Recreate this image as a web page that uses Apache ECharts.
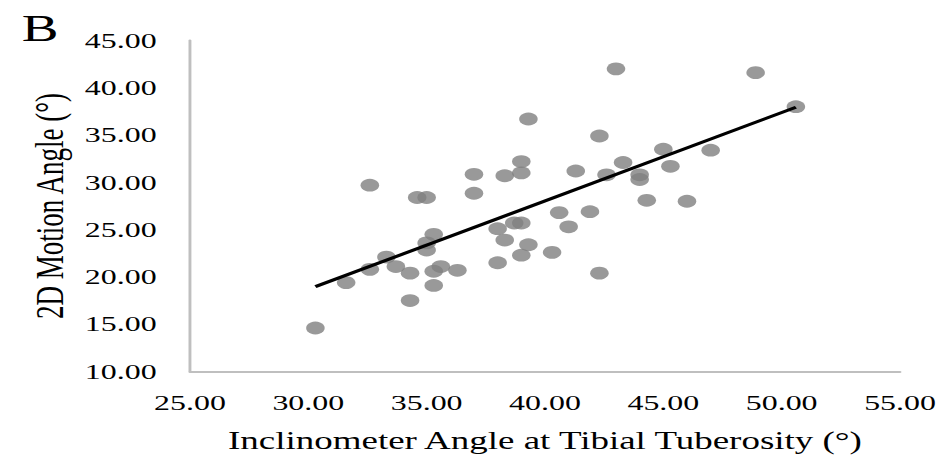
<!DOCTYPE html>
<html>
<head>
<meta charset="utf-8">
<script src="https://cdn.jsdelivr.net/npm/echarts@6/dist/echarts.min.js"></script>
<style>
html,body{margin:0;padding:0;background:#fff;overflow:hidden;width:944px;height:462px;}
#chart{width:651px;height:462px;transform:scaleX(1.45);transform-origin:0 0;}
</style>
</head>
<body>
<div id="chart"></div>
<script>
// Inclinometer angle at tibial tuberosity (°)
const xValues = [43.0, 48.9, 50.6, 39.3, 42.3, 45.0, 47.0, 43.3, 45.3, 41.3,
                 42.6, 44.0, 44.0, 44.3, 46.0, 40.6, 41.9, 41.0, 37.0, 38.3,
                 39.0, 39.0, 37.0, 34.6, 35.0, 32.6, 38.0, 38.7, 39.0, 38.3,
                 39.3, 39.0, 40.3, 42.3, 38.0, 35.3, 35.0, 35.0, 33.3, 33.7,
                 32.6, 31.6, 34.3, 34.3, 30.3, 35.6, 35.3, 36.3, 35.3];
// 2D motion angle (°)
const yValues = [42.0, 41.6, 38.0, 36.7, 34.9, 33.5, 33.4, 32.1, 31.7, 31.2,
                 30.8, 30.8, 30.3, 28.1, 28.0, 26.8, 26.9, 25.3, 30.85, 30.7,
                 32.2, 31.0, 28.85, 28.4, 28.4, 29.7, 25.1, 25.7, 25.7, 23.9,
                 23.4, 22.3, 22.6, 20.4, 21.5, 24.5, 23.6, 22.85, 22.1, 21.1,
                 20.8, 19.4, 20.4, 17.5, 14.6, 21.1, 20.6, 20.7, 19.1];
// Linear trend line end points
const trendX = [30.3, 50.6];
const trendY = [18.97, 37.94];
// Axis ranges / ticks
const xTicks = [25, 30, 35, 40, 45, 50, 55];
const yTicks = [10, 15, 20, 25, 30, 35, 40, 45];
const panelLabel = 'B';
const xTitle = 'Inclinometer Angle at Tibial Tuberosity (°)';
const yTitle = '2D Motion Angle (°)';

const FONT = '"Liberation Serif", "Times New Roman", serif';
const points = xValues.map((x, i) => [x, yValues[i]]);
const trend = trendX.map((x, i) => [x, trendY[i]]);

const chart = echarts.init(document.getElementById('chart'), null, {renderer: 'svg'});
chart.setOption({
  animation: false,
  backgroundColor: '#ffffff',
  graphic: [{
    type: 'text', left: 15, top: 9,
    style: {text: panelLabel, fontFamily: FONT, fontSize: 38, fill: '#000'}
  }],
  grid: {left: 131, top: 40.5, width: 489.7, height: 331, containLabel: false},
  xAxis: {
    type: 'value',
    min: xTicks[0], max: xTicks[xTicks.length - 1], interval: 5,
    name: xTitle, nameLocation: 'middle', nameGap: 56,
    nameTextStyle: {fontFamily: FONT, fontSize: 25.5, color: '#000'},
    axisLine: {show: true, lineStyle: {color: '#bfbfbf', width: 2}},
    axisTick: {show: false},
    splitLine: {show: false},
    axisLabel: {margin: 20, fontFamily: FONT, fontSize: 22, color: '#000',
      formatter: v => v.toFixed(2)}
  },
  yAxis: {
    type: 'value',
    min: yTicks[0], max: yTicks[yTicks.length - 1], interval: 5,
    name: yTitle, nameLocation: 'middle', nameGap: 72,
    nameTextStyle: {fontFamily: FONT, fontSize: 27, color: '#000'},
    axisLine: {show: true, lineStyle: {color: '#bfbfbf', width: 2}},
    axisTick: {show: false},
    splitLine: {show: false},
    axisLabel: {margin: 23, fontFamily: FONT, fontSize: 22, color: '#000',
      formatter: v => v.toFixed(2)}
  },
  series: [
    {
      type: 'scatter', data: points, symbol: 'circle', symbolSize: 12.8,
      itemStyle: {color: '#808080'}, z: 2
    },
    {
      type: 'line', data: trend, symbol: 'none', z: 3,
      lineStyle: {color: '#000', width: 3}
    }
  ]
});
</script>
</body>
</html>
